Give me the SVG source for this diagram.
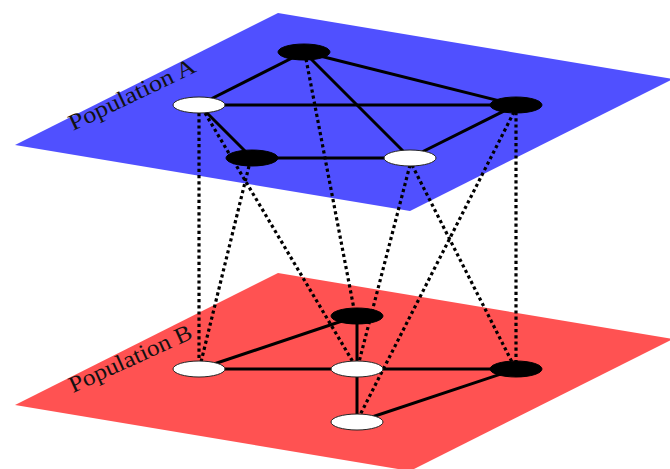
<svg xmlns="http://www.w3.org/2000/svg" width="670" height="469" viewBox="0 0 670 469">
<style>
.plane-a{fill:#5050FF}
.plane-b{fill:#FF5252}
.edge{stroke:#000;stroke-width:3;fill:none}
.link{stroke:#000;stroke-width:3.2;stroke-dasharray:3.2 3;fill:none}
.black{fill:#000;stroke:#000;stroke-width:1}
.white{fill:#fff;stroke:#222;stroke-width:1}
.label{font-family:"Liberation Serif","DejaVu Serif",serif;font-size:23px;fill:#111}
</style>
<g id="plane-A">
<polygon class="plane-a" points="278,13 673,79 410,211 15,145"/>
<text class="label" x="0" y="0" transform="translate(73,131) rotate(-25.6)" textLength="138" lengthAdjust="spacingAndGlyphs">Population A</text>
</g>
<g id="plane-B">
<polygon class="plane-b" points="278,273 673,339 410,471 15,405"/>
<text class="label" x="0" y="0" transform="translate(73,393) rotate(-24.6)" textLength="133" lengthAdjust="spacingAndGlyphs">Population B</text>
</g>
<g id="connectors">
<g id="interlayer">
<line class="link" x1="199" y1="113" x2="199" y2="362"/>
<line class="link" x1="205" y1="113" x2="353" y2="362"/>
<line class="link" x1="249" y1="166" x2="201" y2="362"/>
<line class="link" x1="306" y1="59" x2="354" y2="309"/>
<line class="link" x1="410" y1="165" x2="359" y2="362"/>
<line class="link" x1="412" y1="165" x2="512" y2="362"/>
<line class="link" x1="514" y1="112" x2="360" y2="415"/>
<line class="link" x1="516" y1="112" x2="516" y2="362"/>
</g>
<g id="edges-A">
<line class="edge" x1="304" y1="52" x2="199" y2="105"/>
<line class="edge" x1="304" y1="52" x2="516" y2="105"/>
<line class="edge" x1="304" y1="52" x2="410" y2="158"/>
<line class="edge" x1="199" y1="105" x2="516" y2="105"/>
<line class="edge" x1="199" y1="105" x2="252" y2="158"/>
<line class="edge" x1="252" y1="158" x2="410" y2="158"/>
<line class="edge" x1="410" y1="158" x2="516" y2="105"/>
</g>
<g id="edges-B">
<line class="edge" x1="199" y1="369" x2="357" y2="316"/>
<line class="edge" x1="199" y1="369" x2="357" y2="369"/>
<line class="edge" x1="357" y1="369" x2="516" y2="369"/>
<line class="edge" x1="357" y1="316" x2="357" y2="369"/>
<line class="edge" x1="357" y1="369" x2="357" y2="422"/>
<line class="edge" x1="357" y1="422" x2="516" y2="369"/>
</g>
</g>
<g id="nodeA1"><ellipse class="black" cx="304" cy="52" rx="26" ry="8"/></g>
<g id="nodeA2"><ellipse class="white" cx="199" cy="105" rx="26" ry="8"/></g>
<g id="nodeA3"><ellipse class="black" cx="516" cy="105" rx="26" ry="8"/></g>
<g id="nodeA4"><ellipse class="black" cx="252" cy="158" rx="26" ry="8"/></g>
<g id="nodeA5"><ellipse class="white" cx="410" cy="158" rx="26" ry="8"/></g>
<g id="nodeB1"><ellipse class="black" cx="357" cy="316" rx="26" ry="8"/></g>
<g id="nodeB2"><ellipse class="white" cx="199" cy="369" rx="26" ry="8"/></g>
<g id="nodeB3"><ellipse class="white" cx="357" cy="369" rx="26" ry="8"/></g>
<g id="nodeB4"><ellipse class="black" cx="516" cy="369" rx="26" ry="8"/></g>
<g id="nodeB5"><ellipse class="white" cx="357" cy="422" rx="26" ry="8"/></g>
</svg>
